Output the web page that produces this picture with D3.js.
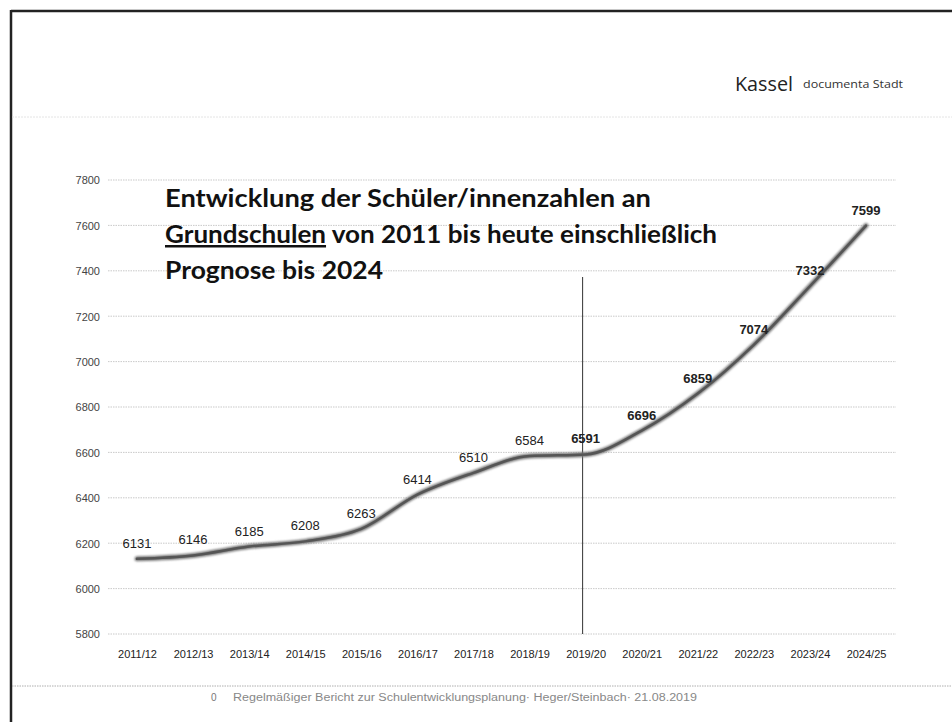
<!DOCTYPE html>
<html><head><meta charset="utf-8">
<script src="https://cdn.jsdelivr.net/npm/d3@7"></script>
<style>body{margin:0;background:#fff;} svg{display:block;}</style>
</head><body>
<svg id="c" width="952" height="722"></svg>
<script>
const categories = ["2011/12","2012/13","2013/14","2014/15","2015/16","2016/17","2017/18","2018/19","2019/20","2020/21","2021/22","2022/23","2023/24","2024/25"];
const values = [6131,6146,6185,6208,6263,6414,6510,6584,6591,6696,6859,7074,7332,7599];
const yTicks = [5800,6000,6200,6400,6600,6800,7000,7200,7400,7600,7800];
const titleLines = ["Entwicklung der Schüler/innenzahlen an", "von 2011 bis heute einschließlich", "Prognose bis 2024"];
const titleUnderlined = "Grundschulen";
const forecastStart = "2019/20";
const footerText = "Regelmäßiger Bericht zur Schulentwicklungsplanung· Heger/Steinbach· 21.08.2019";

const svg = d3.select("#c");
svg.append("rect").attr("width",952).attr("height",722).attr("fill","#fff");

// page frame
svg.append("line").attr("x1",11).attr("x2",952).attr("y1",11).attr("y2",11).attr("stroke","#222").attr("stroke-width",2.5);
svg.append("line").attr("x1",11).attr("x2",11).attr("y1",10).attr("y2",722).attr("stroke","#222").attr("stroke-width",2.5);
svg.append("line").attr("x1",12).attr("x2",952).attr("y1",117).attr("y2",117).attr("stroke","#ddd").attr("stroke-width",0.8).attr("stroke-dasharray","2,1");

// header
svg.append("text").attr("x",735).attr("y",91).text("Kassel")
  .attr("font-family","Open Sans, sans-serif").attr("font-size",20).attr("fill","#222")
  .attr("textLength",58).attr("lengthAdjust","spacingAndGlyphs");
svg.append("text").attr("x",803).attr("y",88).text("documenta Stadt")
  .attr("font-family","Open Sans, sans-serif").attr("font-size",10).attr("fill","#333")
  .attr("textLength",100).attr("lengthAdjust","spacingAndGlyphs");

const x = d3.scalePoint().domain(categories).range([137, 866]);
const y = d3.scaleLinear().domain([5800, 7800]).range([634, 180]);

// y axis labels + gridlines
const yAxis = d3.axisLeft(y).tickValues(yTicks).tickSize(0).tickPadding(0).tickFormat(d3.format("d"));
const ga = svg.append("g").attr("transform","translate(100,0)").call(yAxis);
ga.select(".domain").remove();
ga.selectAll("text").attr("font-family","Liberation Sans, sans-serif").attr("font-size",11).attr("fill","#444").attr("dy","0.35em").attr("x",0);
svg.append("g").selectAll("line").data(yTicks).join("line")
  .attr("x1",108).attr("x2",896).attr("y1",d=>y(d)).attr("y2",d=>y(d))
  .attr("stroke","#bbb").attr("stroke-width",0.8).attr("stroke-dasharray","1.5,1");

// x axis labels
const xAxis = d3.axisBottom(x).tickSize(0).tickPadding(0);
const gx = svg.append("g").attr("transform","translate(0,650)").call(xAxis);
gx.select(".domain").remove();
gx.selectAll("text").attr("font-family","Liberation Sans, sans-serif").attr("font-size",11).attr("fill","#222");

// forecast divider
svg.append("line").attr("x1",x(forecastStart)-3).attr("x2",x(forecastStart)-3).attr("y1",277).attr("y2",634)
  .attr("stroke","#333").attr("stroke-width",1);

// line
const defs = svg.append("defs");
defs.append("filter").attr("id","soft").append("feGaussianBlur").attr("stdDeviation",0.8);
const line = d3.line().x((d,i)=>x(categories[i])).y(d=>y(d)).curve(d3.curveMonotoneX);
svg.append("path").datum(values).attr("d",line).attr("fill","none")
  .attr("stroke","#777").attr("stroke-width",5).attr("stroke-linecap","round").attr("filter","url(#soft)");
svg.append("path").datum(values).attr("d",line).attr("fill","none")
  .attr("stroke","#555").attr("stroke-width",2.5).attr("stroke-linecap","round");

// data labels
svg.append("g").selectAll("text").data(values).join("text")
  .attr("x",(d,i)=>x(categories[i])).attr("y",d=>y(d)-11)
  .attr("text-anchor","middle").attr("font-family","Liberation Sans, sans-serif")
  .attr("font-size",13).attr("fill","#222")
  .attr("font-weight",(d,i)=>i>=8?"bold":"normal")
  .text(d=>d);

// title
const tf = "Lato, sans-serif";
svg.append("text").attr("x",165).attr("y",207).attr("font-family",tf).attr("font-weight","bold").attr("font-size",25).attr("fill","#111")
  .attr("textLength",486).attr("lengthAdjust","spacingAndGlyphs").text(titleLines[0]);
const t2 = svg.append("text").attr("x",165).attr("y",243).attr("font-family",tf).attr("font-weight","bold").attr("font-size",25).attr("fill","#111");
t2.append("tspan").attr("text-decoration","underline").text(titleUnderlined);
t2.append("tspan").text(" " + titleLines[1]);
t2.attr("textLength",552).attr("lengthAdjust","spacingAndGlyphs");
svg.append("text").attr("x",165).attr("y",279).attr("font-family",tf).attr("font-weight","bold").attr("font-size",25).attr("fill","#111")
  .attr("textLength",218).attr("lengthAdjust","spacingAndGlyphs").text(titleLines[2]);

// footer
svg.append("line").attr("x1",12).attr("x2",952).attr("y1",686).attr("y2",686).attr("stroke","#999").attr("stroke-width",0.8).attr("stroke-dasharray","1.5,1");
svg.append("text").attr("x",211).attr("y",701).attr("font-family","Liberation Sans, sans-serif").attr("font-size",10).attr("fill","#777").text("0");
svg.append("text").attr("x",233).attr("y",701).attr("font-family","Liberation Sans, sans-serif").attr("font-size",10).attr("fill","#888")
  .attr("textLength",464).attr("lengthAdjust","spacingAndGlyphs").text(footerText);
</script>
</body></html>
